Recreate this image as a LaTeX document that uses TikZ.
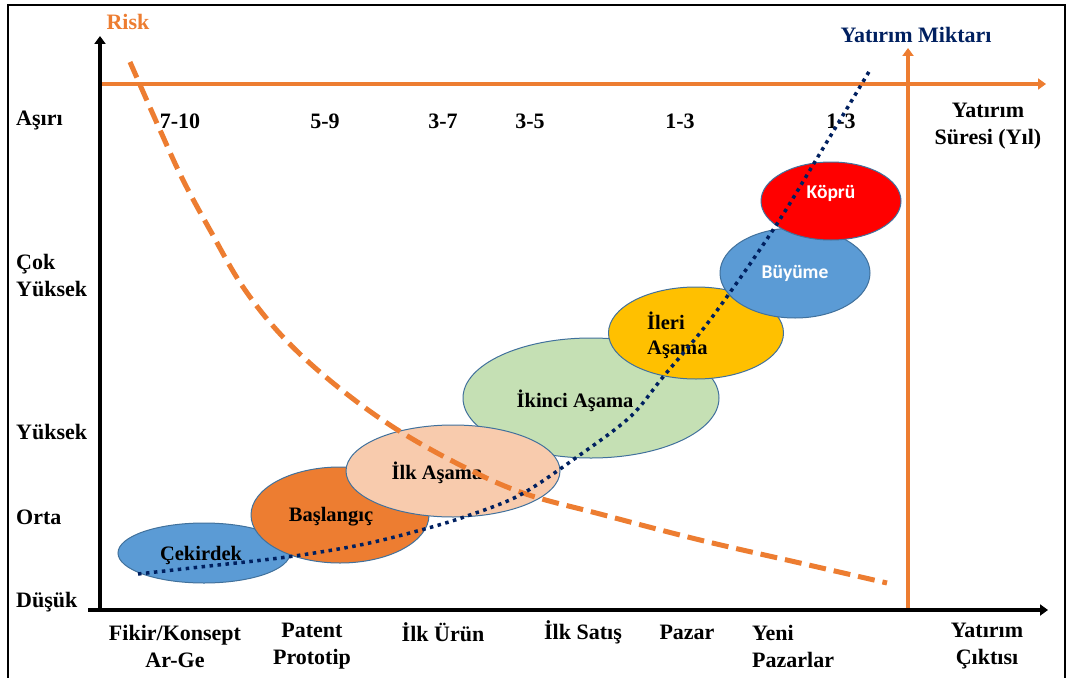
\documentclass[tikz,border=0pt]{standalone}
\usepackage{fontspec}
\setmainfont{Liberation Serif}
\newfontfamily\calibrisub{Carlito}
\usetikzlibrary{arrows.meta,shapes.geometric}

\definecolor{riskorange}{HTML}{ED7D31}
\definecolor{navyline}{HTML}{002060}
\definecolor{edgeblue}{HTML}{41719C}
\definecolor{cekblue}{HTML}{5B9BD5}
\definecolor{peach}{HTML}{F8CBAD}
\definecolor{palegreen}{HTML}{C5E0B4}
\definecolor{gold}{HTML}{FFC000}
\definecolor{brightred}{HTML}{FF0000}

\tikzset{
  lbl/.style={font=\fontsize{22}{27}\selectfont\bfseries, inner sep=0pt, align=center},
  stage/.style={ellipse, draw=edgeblue, line width=1pt, inner sep=0pt},
  stagetxt/.style={font=\fontsize{20.5}{25}\selectfont\bfseries, inner sep=0pt, align=center},
  whitetxt/.style={font=\calibrisub\fontsize{19.5}{23}\selectfont\bfseries, text=white, inner sep=0pt},
  axisblack/.style={line width=4pt, -{Triangle[width=11pt,length=8pt]}},
  axisorange/.style={line width=4pt, draw=riskorange, -{Triangle[width=11pt,length=8pt]}},
  riskcurve/.style={draw=riskorange, line width=5pt, dash pattern=on 17pt off 8pt},
  investcurve/.style={draw=navyline, line width=3.5pt, dash pattern=on 3.5pt off 4.5pt},
}

\begin{document}
\begin{tikzpicture}[x=1pt,y=-1pt]
\useasboundingbox (0,0) rectangle (1070,677);
\fill[white] (0,0) rectangle (1070,677);

% frame
\draw[line width=2.5pt] (8,680) -- (8,5) -- (1065,5) -- (1065,680);

% axes
\coordinate (yb) at (100,610);
\coordinate (yt) at (100,36);
\coordinate (xl) at (88,610);
\coordinate (xr) at (1048,610);
\draw[axisblack] (yb) -- (yt);
\draw[axisblack] (xl) -- (xr);

\coordinate (ohl) at (102,84);
\coordinate (ohr) at (1046,84);
\coordinate (ovb) at (908,608);
\coordinate (ovt) at (908,48);
\draw[axisorange] (ohl) -- (ohr);
\draw[axisorange] (ovb) -- (ovt);

% axis titles
\node[lbl, text=riskorange] (risk) at (128,22) {Risk};
\node[lbl, text=navyline] (miktar) at (916,35) {Yatırım Miktarı};

% risk levels
\node[lbl, anchor=west] (asiri) at (16,121) {Aşırı};
\node[lbl, anchor=west, align=left] (cokyuksek) at (16,275) {Çok\\Yüksek};
\node[lbl, anchor=west] (yuksek) at (16,432) {Yüksek};
\node[lbl, anchor=west] (orta) at (16,517) {Orta};
\node[lbl, anchor=west] (dusuk) at (16,602) {Düşük};

% durations
\node[lbl] (d1) at (180,121) {7-10};
\node[lbl] (d2) at (325,121) {5-9};
\node[lbl] (d3) at (443,121) {3-7};
\node[lbl] (d4) at (530,121) {3-5};
\node[lbl] (d5) at (680,121) {1-3};
\node[lbl] (d6) at (841,121) {1-3};
\node[lbl] (sure) at (988,126) {Yatırım\\Süresi (Yıl)};

% outputs
\node[lbl] (o1) at (175,646) {Fikir/Konsept\\Ar-Ge};
\node[lbl] (o2) at (312,646) {Patent\\Prototip};
\node[lbl] (o3) at (443,632) {İlk Ürün};
\node[lbl] (o4) at (583,632) {İlk Satış};
\node[lbl] (o5) at (687,632) {Pazar};
\node[lbl, anchor=west, align=left] (o6) at (752,646) {Yeni\\Pazarlar};
\node[lbl] (cikti) at (987,646) {Yatırım\\Çıktısı};

% stages
\node[stage, fill=cekblue, minimum width=172pt, minimum height=60pt] (cek) at (204,553) {};
\node[stage, fill=riskorange, minimum width=178pt, minimum height=96pt] (bas) at (340,515) {};
\node[stage, fill=palegreen, minimum width=256pt, minimum height=120pt] (iki) at (591,398) {};
\node[stage, fill=peach, minimum width=214pt, minimum height=92pt] (ilk) at (453,471) {};
\node[stage, fill=gold, minimum width=175pt, minimum height=92pt] (ileri) at (696,333) {};
\node[stage, fill=cekblue, minimum width=150pt, minimum height=90pt] (buy) at (795,273) {};
\node[stage, fill=brightred, minimum width=140pt, minimum height=78pt] (kop) at (831,201) {};

\node[stagetxt] (tcek) at (201,555) {Çekirdek};
\node[stagetxt] (tbas) at (331,517) {Başlangıç};
\node[stagetxt] (tilk) at (437,473) {İlk Aşama};
\node[stagetxt] (tiki) at (575,401) {İkinci Aşama};
\node[stagetxt, anchor=west, align=left] (tileri) at (647,335) {İleri\\Aşama};
\node[whitetxt] (tbuy) at (795,273) {Büyüme};
\node[whitetxt] (tkop) at (831,193) {Köprü};

% risk curve
\draw[riskcurve] plot[smooth, tension=0.6] coordinates {
  (130,62) (160,130) (183,180) (210,230) (243,287) (283,337) (333,383)
  (393,427) (460,465) (523,493) (600,514) (700,540) (800,563) (887,583)};

% investment curve
\draw[investcurve] plot[smooth, tension=0.55] coordinates {
  (138,574) (200,567) (287,557) (360,545) (421,530) (467,516) (520,495)
  (577,457) (630,417) (663,377) (710,320) (773,230) (822,150) (870,70)};
\end{tikzpicture}
\end{document}
